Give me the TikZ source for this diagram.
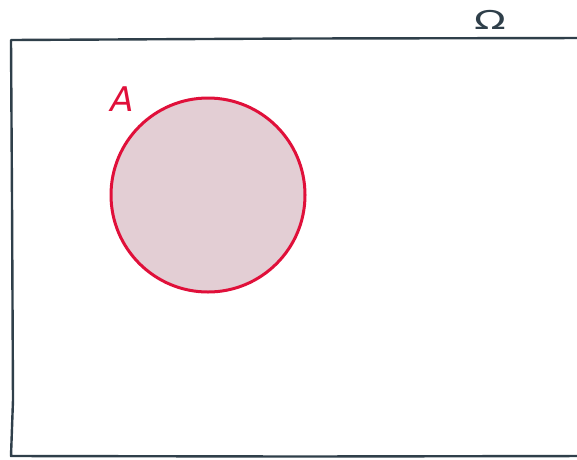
\documentclass[tikz,border=0pt]{standalone}
\usepackage{fontspec}
\setmainfont{DejaVu Sans}
\definecolor{frame}{HTML}{2F3F4A}
\definecolor{setred}{HTML}{E0103A}
\definecolor{setfill}{HTML}{E3CED4}
\tikzset{
  framestyle/.style={draw=frame, line width=2.4pt, line cap=round, line join=round},
  setstyle/.style={draw=setred, fill=setfill, line width=3pt},
  setlabel/.style={text=setred, font=\fontsize{34}{34}\selectfont\itshape, inner sep=0pt},
  omegalabel/.style={text=frame, font=\fontsize{26}{26}\selectfont, inner sep=0pt, xscale=1.6}
}
\begin{document}
\begin{tikzpicture}[x=1pt,y=-1pt]
\useasboundingbox (0,0) rectangle (577,459);
% universe frame (hand-drawn look, right edge outside the picture)
\draw[framestyle] (590,38) -- (300,38.5) -- (11,40) -- (12,200) -- (13,400) -- (11,456) -- (300,456.5) -- (590,456);
% set A
\node[setstyle, circle, minimum size=194pt, inner sep=0pt] (A) at (208,195) {};
\node[setlabel] (Alabel) at (122,99) {A};
% universe label
\node[omegalabel] (Omega) at (490,20) {Ω};
\end{tikzpicture}
\end{document}
